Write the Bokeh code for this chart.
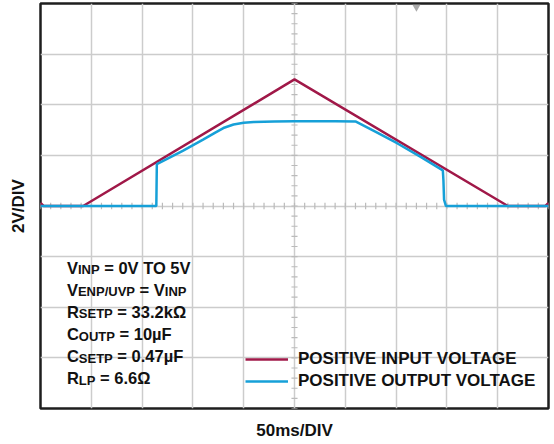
import numpy as np
from bokeh.plotting import figure
from bokeh.models import ColumnDataSource, FixedTicker, Legend, LegendItem
from bokeh.core.properties import value
from bokeh.embed import file_html
from bokeh.resources import INLINE

# ---------------- data ----------------
vin_t = [0, 3, 42, 250, 460, 497, 500]          # ms
vin_v = [0.12, 0.0, 0.0, 5.0, 0.0, 0.0, 0.12]    # V

vout_t = [0, 114, 114.5, 140, 160, 172, 180, 190, 200, 210, 230, 250, 290, 310,
          330, 351, 375, 396, 396.6, 397.2, 399, 500]
vout_v = [0, 0, 1.65, 2.18, 2.62, 2.90, 3.08, 3.22, 3.29, 3.32, 3.34, 3.35, 3.35, 3.34,
          2.93, 2.48, 1.92, 1.41, 1.0, 0.25, 0.0, 0.0]

trigger_t = [370]

x_label = "50ms/DIV"
y_label = "2V/DIV"
legend_labels = ["POSITIVE INPUT VOLTAGE", "POSITIVE OUTPUT VOLTAGE"]

# each note: (main, subscript, main, subscript)
notes = [
    ("V", "INP", " = 0V TO 5V", ""),
    ("V", "ENP/UVP", " = V", "INP"),
    ("R", "SETP", " = 33.2k\u03a9", ""),
    ("C", "OUTP", " = 10\u00b5F", ""),
    ("C", "SETP", " = 0.47\u00b5F", ""),
    ("R", "LP", " = 6.6\u03a9", ""),
]

X_MIN, X_MAX, X_DIV = 0, 500, 50
Y_MIN, Y_MAX, Y_DIV = -8, 8, 2

RED = "#a01848"
BLUE = "#16a0d8"
GRID = "#cccccc"
FONT = "Liberation Sans"

p = figure(width=550, height=442, x_range=(X_MIN, X_MAX), y_range=(Y_MIN, Y_MAX),
           output_backend="svg", toolbar_location=None,
           min_border_left=40, min_border_right=2, min_border_top=3, min_border_bottom=32)

p.outline_line_color = "#1e1e1e"
p.outline_line_width = 2.5

for ax in (p.xaxis, p.yaxis):
    ax.ticker = FixedTicker(ticks=[])
    ax.axis_line_color = None
    ax.major_tick_line_color = None
    ax.minor_tick_line_color = None
    ax.major_tick_out = 0
    ax.major_tick_in = 0
    ax.major_label_standoff = 0
    ax.axis_label_text_font = FONT
    ax.axis_label_text_font_style = "bold"
    ax.axis_label_text_font_size = "17px"
    ax.axis_label_text_color = "#111111"
p.xaxis.axis_label = x_label
p.yaxis.axis_label = y_label
p.xaxis.axis_label_standoff = 12
p.yaxis.axis_label_standoff = 13

p.xgrid.ticker = FixedTicker(ticks=list(np.arange(X_MIN, X_MAX + 1, X_DIV)))
p.ygrid.ticker = FixedTicker(ticks=list(np.arange(Y_MIN, Y_MAX + 0.01, Y_DIV)))
for g in (p.xgrid, p.ygrid):
    g.grid_line_color = GRID
    g.grid_line_width = 1.5

# minor ticks along the centre lines
xc = (X_MIN + X_MAX) / 2
yc = (Y_MIN + Y_MAX) / 2
xt = np.arange(X_MIN, X_MAX + 0.01, X_DIV / 5)
yt = np.arange(Y_MIN, Y_MAX + 0.01, Y_DIV / 5)
p.segment(x0=xt, y0=yc - 0.13, x1=xt, y1=yc + 0.13, line_color="#bbbbbb", line_width=1.2)
p.segment(x0=xc - 3, y0=yt, x1=xc + 3, y1=yt, line_color="#bbbbbb", line_width=1.2)

r_in = p.line(vin_t, vin_v, line_color=RED, line_width=2.5)
r_out = p.line(vout_t, vout_v, line_color=BLUE, line_width=2.5)

p.scatter(trigger_t, [Y_MAX - 0.14], marker="inverted_triangle", size=8,
          fill_color="#aaaaaa", line_color=None)

legend = Legend(items=[LegendItem(label=legend_labels[0], renderers=[r_in]),
                       LegendItem(label=legend_labels[1], renderers=[r_out])],
                location=(205, 16), orientation="vertical",
                background_fill_alpha=0, border_line_color=None,
                padding=0, margin=0, spacing=0,
                glyph_width=43, glyph_height=22, label_height=22, label_standoff=10,
                label_text_font=FONT, label_text_font_style="bold",
                label_text_font_size="17px", label_text_color="#111111")
p.add_layout(legend)

# ---------------- parameter notes with subscripts ----------------
WID = {"A": 722, "B": 722, "C": 722, "D": 722, "E": 667, "F": 611, "G": 778, "H": 722,
       "I": 278, "K": 722, "L": 611, "M": 833, "N": 722, "O": 778, "P": 667, "R": 722,
       "S": 667, "T": 611, "U": 722, "V": 667, " ": 278, "=": 584, ".": 278, "/": 278,
       "k": 556, "\u03a9": 768, "\u00b5": 611}


def tw(s, size):
    return sum(WID.get(c, 556) for c in s) * size / 1000.0


MAIN, SUB = 16.5, 13
X0 = 26.0
Y0 = -2.43
DY = 0.873
SUB_DROP = 0.09

main_rows = dict(x=[], y=[], text=[], xo=[])
sub_rows = dict(x=[], y=[], text=[], xo=[])
for i, (a, b, c, d) in enumerate(notes):
    yb = Y0 - i * DY
    off = 0.0
    for j, piece in enumerate((a, b, c, d)):
        if not piece:
            continue
        size = MAIN if j % 2 == 0 else SUB
        lead = len(piece) - len(piece.lstrip(" "))
        off += tw(" " * lead, size)          # svg collapses leading spaces
        txt = piece.lstrip(" ")
        rows = main_rows if j % 2 == 0 else sub_rows
        rows["x"].append(X0)
        rows["y"].append(yb if j % 2 == 0 else yb - SUB_DROP)
        rows["text"].append(txt)
        rows["xo"].append(off)
        off += tw(txt, size)

for rows, size in ((main_rows, MAIN), (sub_rows, SUB)):
    p.text(x="x", y="y", text="text", x_offset="xo", source=ColumnDataSource(rows),
           text_font=value(FONT), text_font_style="bold", text_font_size=f"{size}px",
           text_baseline="alphabetic", text_align="left", text_color="#111111")

open("out.html", "w").write(file_html(p, INLINE))
